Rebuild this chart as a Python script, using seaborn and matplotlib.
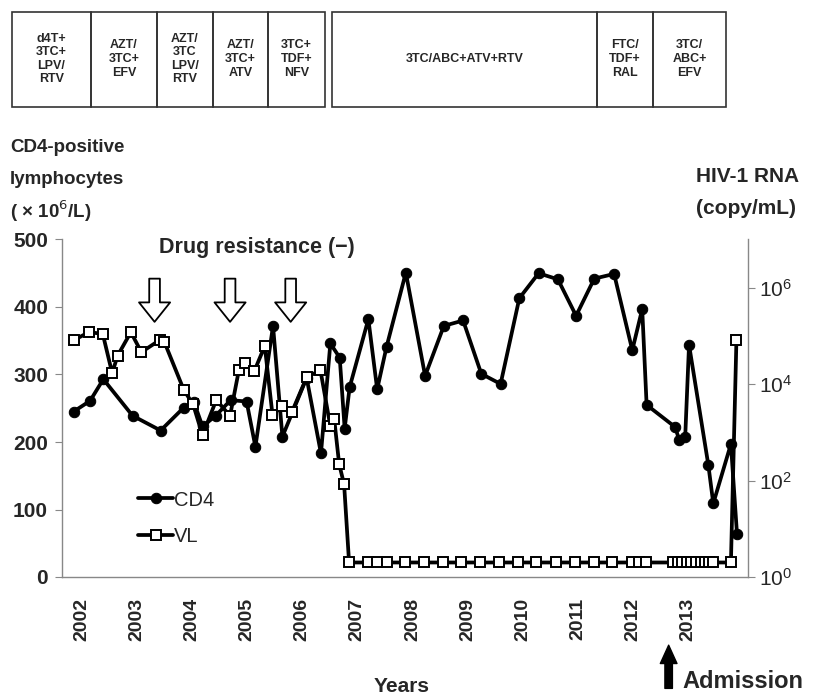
import matplotlib.pyplot as plt
import matplotlib.patches as mpatches
import matplotlib.ticker as mticker
import pandas as pd
import seaborn as sns

# treatment regimens shown in the strip above the chart
regimens = [
    "d4T+\n3TC+\nLPV/\nRTV", "AZT/\n3TC+\nEFV", "AZT/\n3TC\nLPV/\nRTV",
    "AZT/\n3TC+\nATV", "3TC+\nTDF+\nNFV", "3TC/ABC+ATV+RTV",
    "FTC/\nTDF+\nRAL", "3TC/\nABC+\nEFV",
]

# CD4-positive lymphocytes (x10^6/L)
cd4_year = [
    2001.85, 2002.15, 2002.39, 2002.92, 2003.43, 2003.85, 2004.03, 2004.19,
    2004.43, 2004.70, 2004.99, 2005.15, 2005.47, 2005.64, 2006.08, 2006.34,
    2006.51, 2006.68, 2006.77, 2006.86, 2007.20, 2007.36, 2007.53, 2007.88,
    2008.23, 2008.57, 2008.92, 2009.25, 2009.60, 2009.94, 2010.29, 2010.64,
    2010.97, 2011.30, 2011.66, 2011.99, 2012.17, 2012.25, 2012.77, 2012.84,
    2012.95, 2013.02, 2013.37, 2013.46, 2013.78, 2013.89,
]
cd4_count = [
    245, 261, 293, 239, 217, 251, 260, 223,
    239, 262, 260, 193, 372, 208, 295, 183,
    346, 325, 220, 281, 382, 278, 341, 451,
    298, 372, 380, 301, 286, 413, 450, 441,
    387, 442, 449, 336, 397, 255, 222, 203,
    207, 344, 166, 109, 197, 64,
]

# HIV-1 RNA viral load (copy/mL); 2 = below detection
vl_year = [
    2001.85, 2002.13, 2002.38, 2002.55, 2002.65, 2002.89, 2003.08, 2003.42,
    2003.50, 2003.85, 2004.02, 2004.19, 2004.44, 2004.69, 2004.85, 2004.96,
    2005.13, 2005.32, 2005.46, 2005.64, 2005.81, 2006.08, 2006.33, 2006.51,
    2006.58, 2006.67, 2006.76, 2006.85, 2007.20, 2007.36, 2007.53, 2007.86,
    2008.21, 2008.55, 2008.89, 2009.22, 2009.57, 2009.92, 2010.25, 2010.60,
    2010.95, 2011.29, 2011.63, 2011.98, 2012.11, 2012.24, 2012.73, 2012.82,
    2012.90, 2012.98, 2013.06, 2013.14, 2013.23, 2013.31, 2013.38, 2013.45,
    2013.78, 2013.88,
]
vl_copies = [
    81000, 120000, 110000, 17000, 39000, 120000, 46000, 83000,
    74000, 7600, 3800, 870, 4700, 2200, 19500, 27500,
    18600, 62000, 2300, 3500, 2600, 13800, 19500, 1350,
    1900, 220, 83, 2, 2, 2, 2, 2,
    2, 2, 2, 2, 2, 2, 2, 2,
    2, 2, 2, 2, 2, 2, 2, 2,
    2, 2, 2, 2, 2, 2, 2, 2,
    2, 83000,
]

years = list(range(2002, 2014))
resistance_years = [2003.32, 2004.69, 2005.79]
admission_year = 2012.65

cd4 = pd.DataFrame({"year": cd4_year, "cd4": cd4_count})
vl = pd.DataFrame({"year": vl_year, "vl": vl_copies})

sns.set_style("white")
plt.rcParams["font.family"] = ["Liberation Sans", "DejaVu Sans"]

W, H = 833, 700
fig = plt.figure(figsize=(W / 100, H / 100), dpi=100)

# --- regimen strip (pixel coordinates) ---
strip = fig.add_axes([0, 1 - 110 / H, 1, 110 / H])
strip.set_xlim(0, W)
strip.set_ylim(110, 0)
strip.axis("off")
box_edges = [(12, 91), (91, 157), (157, 213), (213, 268), (268, 325),
             (332, 597), (597, 653), (653, 726)]
for (x0, x1), txt in zip(box_edges, regimens):
    strip.add_patch(mpatches.Rectangle((x0, 12), x1 - x0, 95, fill=False,
                                       ec="#333333", lw=1.2))
    strip.text((x0 + x1) / 2, 59, txt, ha="center", va="center",
               fontsize=9, fontweight="bold", linespacing=1.18)

# --- main chart ---
ax = fig.add_axes([62 / W, 1 - 577 / H, 686 / W, 337.5 / H])
tw = ax.twinx()
tw.set_yscale("log")

line_kw = dict(color="black", linewidth=2.7, estimator=None, sort=False)
sns.lineplot(data=cd4, x="year", y="cd4", ax=ax, marker="o", markersize=7.5,
             markeredgecolor="black", label="CD4", **line_kw)
sns.lineplot(data=vl, x="year", y="vl", ax=tw, marker="s", markersize=6.5,
             markerfacecolor="white", markeredgecolor="black",
             markeredgewidth=1.4, label="VL", **line_kw)
for a in (ax, tw):
    if a.get_legend():
        a.get_legend().remove()

ax.set_xlim(2001.64, 2014.09)
ax.set_ylim(0, 500)
tw.set_ylim(1, 1e7)
ax.set_yticks(range(0, 501, 100))
tw.set_yticks([1, 1e2, 1e4, 1e6])
tw.yaxis.set_minor_locator(mticker.NullLocator())
ax.set_xticks(years)
ax.set_xticklabels([str(y) for y in years], rotation=90, fontsize=14,
                   fontweight="bold")

for a in (ax, tw):
    a.spines["top"].set_visible(False)
    for side in ("left", "bottom", "right"):
        a.spines[side].set_color("#888888")
        a.spines[side].set_linewidth(1.0)
ax.spines["right"].set_visible(False)
tw.spines["left"].set_visible(False)
tw.spines["bottom"].set_visible(False)

ax.tick_params(axis="y", direction="out", length=5, color="#888888",
               labelsize=15, pad=5)
for t in ax.get_yticklabels():
    t.set_fontweight("bold")
ax.tick_params(axis="x", length=0, pad=15)
tw.tick_params(axis="y", direction="out", length=5, color="#888888",
               labelsize=15, pad=3)

ax.set_xlabel("Years", fontsize=15, fontweight="bold")
ax.xaxis.set_label_coords(0.495, -0.295)
ax.set_ylabel("")
tw.set_ylabel("")

ax.legend(handles=ax.get_lines()[:1] + tw.get_lines()[:1], labels=["CD4", "VL"],
          frameon=False, loc="upper left", bbox_to_anchor=(0.085, 0.31),
          fontsize=14.5, handlelength=1.7, handletextpad=0.05, labelspacing=0.85)

# drug-resistance arrows (hollow)
for yr in resistance_years:
    ax.annotate("", xy=(yr, 378), xytext=(yr, 442),
                arrowprops=dict(arrowstyle="simple,head_width=1.6,head_length=1.0,tail_width=0.55",
                                fc="white", ec="black", lw=1.3, mutation_scale=14,
                                shrinkA=0, shrinkB=0))

# admission arrow
ax.annotate("", xy=(admission_year, -0.202), xytext=(admission_year, -0.33),
            xycoords=("data", "axes fraction"), textcoords=("data", "axes fraction"),
            arrowprops=dict(arrowstyle="simple,head_width=1.0,head_length=1.1,tail_width=0.45",
                            fc="black", ec="black", mutation_scale=12,
                            shrinkA=0, shrinkB=0))
fig.text(682 / W, 1 - 681 / H, "Admission", fontsize=17, fontweight="bold",
         va="center", ha="left")

# axis titles
fig.text(10 / W, 1 - 148 / H, "CD4-positive", fontsize=13.5, fontweight="bold",
         va="center")
fig.text(10 / W, 1 - 180 / H, "lymphocytes", fontsize=13.5, fontweight="bold",
         va="center")
fig.text(10 / W, 1 - 211 / H, "( × 10$^{6}$/L)", fontsize=13.5, fontweight="bold",
         va="center")
fig.text(696 / W, 1 - 177 / H, "HIV-1 RNA", fontsize=15, fontweight="bold",
         va="center")
fig.text(696 / W, 1 - 208 / H, "(copy/mL)", fontsize=15, fontweight="bold",
         va="center")
fig.text(257 / W, 1 - 247 / H, "Drug resistance (−)", fontsize=15.5,
         fontweight="bold", va="center", ha="center")

fig.savefig("out.png", dpi=100)
